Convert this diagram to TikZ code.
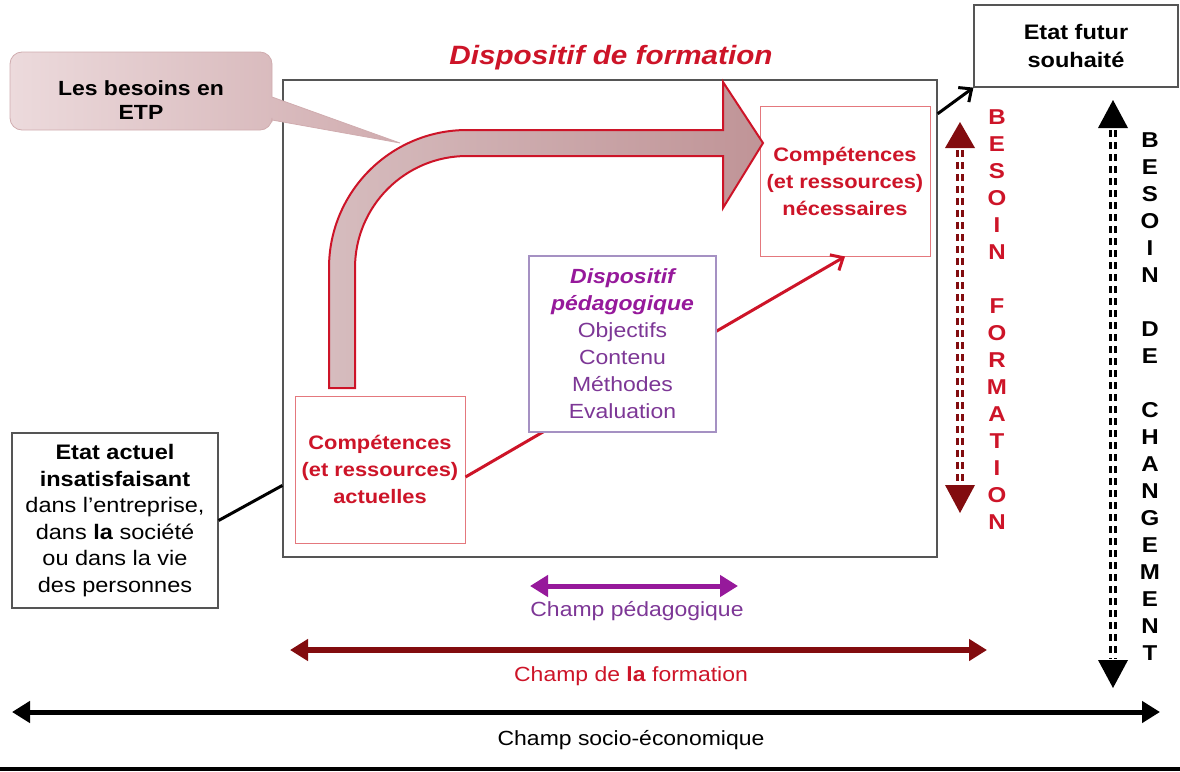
\documentclass[tikz,border=0pt]{standalone}
\usepackage{fontspec}
\setmainfont{Liberation Sans}[FakeStretch=1.12]
\usetikzlibrary{arrows.meta}

\definecolor{rouge}{RGB}{205,20,40}
\definecolor{bordeaux}{RGB}{130,12,15}
\definecolor{pviolet}{RGB}{150,25,155}
\definecolor{mauve}{RGB}{125,55,150}
\definecolor{rose}{RGB}{228,120,125}
\definecolor{lilas}{RGB}{165,145,195}
\definecolor{cadre}{RGB}{85,85,85}
\definecolor{pale}{RGB}{214,188,190}
\definecolor{vieuxrose}{RGB}{192,148,151}
\definecolor{bulleclair}{RGB}{236,218,220}
\definecolor{bullefonce}{RGB}{208,172,175}

\newcommand{\fsz}[2]{\fontsize{#1}{#2}\selectfont}

\begin{document}
\begin{tikzpicture}[x=1pt,y=-1pt,
  boite/.style={rectangle,inner sep=0pt,align=center,fill=white},
  comp node/.style={boite,draw=rose,line width=1pt,text=rouge,
    font=\fsz{19.5}{27}\bfseries,minimum width=170pt},
  etat node/.style={boite,draw=cadre,line width=1.2pt,font=\fsz{21}{26.6}},
  peda node/.style={boite,draw=lilas,line width=1.2pt,text=mauve,
    font=\fsz{20.5}{27},minimum width=187pt,minimum height=176pt},
  lettres/.style={align=center,font=\fsz{21.5}{27}\bfseries,inner sep=0pt},
  legende/.style={font=\fsz{20.5}{24},inner sep=0pt},
  champ/.style={line width=5pt,>={Triangle[width=21pt,length=18pt]},<->},
  fleche/.style={line width=3pt,-{Straight Barb[length=10pt,width=18pt]}},
  pointille/.style={line width=3.3pt,double distance=1.4pt,dash pattern=on 7pt off 5pt}]

  \useasboundingbox (0,0) rectangle (1180,771);

  % cadre du dispositif
  \node[draw=cadre,line width=1.3pt,minimum width=654pt,minimum height=477pt,
    inner sep=0pt] (dispo) at (610,318.5) {};
  \node[font=\fsz{26.5}{30}\bfseries\itshape,text=rouge] (titre) at (611,58)
    {Dispositif de formation};

  % bulle
  \path[draw=bullefonce,line width=0.8pt,left color=bulleclair,right color=bullefonce]
    (10,91) [rounded corners=12pt] -- (10,52) -- (272,52) -- (272,80)
    [sharp corners] -- (272,97) -- (400,143) -- (272,120) -- (272,122)
    [rounded corners=12pt] -- (272,130) -- (10,130) -- cycle;
  \node[font=\fsz{20.5}{24}\bfseries,align=center] (besoins) at (141,100)
    {Les besoins en\\ETP};

  \node[comp node,minimum height=150pt] (necessaires) at (845,181)
    {Compétences\\(et ressources)\\nécessaires};
  \node[comp node,minimum height=147pt] (actuelles) at (380,469.5)
    {Compétences\\(et ressources)\\actuelles};

  % grosse fleche courbe
  \path[draw=rouge,line width=2pt,left color=pale,right color=vieuxrose]
    (329,388) -- (329,268) .. controls (329,191.8) and (390.8,130) .. (467,130)
    -- (723,130) -- (723,82) -- (763,143) -- (723,208) -- (723,156) -- (467,156)
    .. controls (405.1,156) and (355,206.1) .. (355,268) -- (355,388) -- cycle;

  \draw[rouge,fleche] (actuelles.-5) -- (necessaires.south);

  \node[peda node] (peda) at (622.5,344)
    {{\bfseries\itshape\color{pviolet}Dispositif}\\
     {\bfseries\itshape\color{pviolet}pédagogique}\\
     Objectifs\\Contenu\\Méthodes\\Evaluation};

  \node[etat node,font=\fsz{21}{28}\bfseries,minimum width=204pt,
    minimum height=82pt] (futur) at (1076,46) {Etat futur\\souhaité};
  \node[etat node,minimum width=206pt,minimum height=175pt] (actuel) at (115,520.5)
    {\textbf{Etat actuel}\\\textbf{insatisfaisant}\\dans l’entreprise,\\
     dans \textbf{la} société\\ou dans la vie\\des personnes};

  \draw[line width=3pt] (actuel.east) -- (dispo.207.7);
  \draw[fleche] (dispo.32.5) -- (futur.south west);

  % besoin de formation
  \coordinate (bfh) at (960,122);
  \coordinate (bfb) at (960,513);
  \draw[bordeaux,pointille] (960,150) -- (960,484);
  \fill[bordeaux] (bfh) -- ++(15,26) -- ++(-30,0) -- cycle;
  \fill[bordeaux] (bfb) -- ++(15,-28) -- ++(-30,0) -- cycle;
  \node[lettres,text=rouge] (besform) at (997,320)
    {B\\E\\S\\O\\I\\N\\[27pt]F\\O\\R\\M\\A\\T\\I\\O\\N};

  % besoin de changement
  \coordinate (bch) at (1113,100);
  \coordinate (bcb) at (1113,688);
  \draw[pointille] (1113,130) -- (1113,659);
  \fill (bch) -- ++(15,28) -- ++(-30,0) -- cycle;
  \fill (bcb) -- ++(15,-28) -- ++(-30,0) -- cycle;
  \node[lettres] (beschang) at (1150,397)
    {B\\E\\S\\O\\I\\N\\[27pt]D\\E\\[27pt]C\\H\\A\\N\\G\\E\\M\\E\\N\\T};

  % champs
  \coordinate (cpg) at (530,586);
  \coordinate (cpd) at (738,586);
  \coordinate (cfg) at (290,650);
  \coordinate (cfd) at (987,650);
  \coordinate (csg) at (12,712);
  \coordinate (csd) at (1160,712);
  \draw[pviolet,champ] (cpg) -- (cpd);
  \draw[bordeaux,champ,line width=6pt] (cfg) -- (cfd);
  \draw[champ] (csg) -- (csd);
  \node[legende,text=mauve] (lcp) at (637,611) {Champ pédagogique};
  \node[legende,text=rouge] (lcf) at (631,676) {Champ de \textbf{la} formation};
  \node[legende] (lcs) at (631,740) {Champ socio-économique};

  \draw[line width=3.5pt] (0,769) -- (1180,769);

\end{tikzpicture}
\end{document}
